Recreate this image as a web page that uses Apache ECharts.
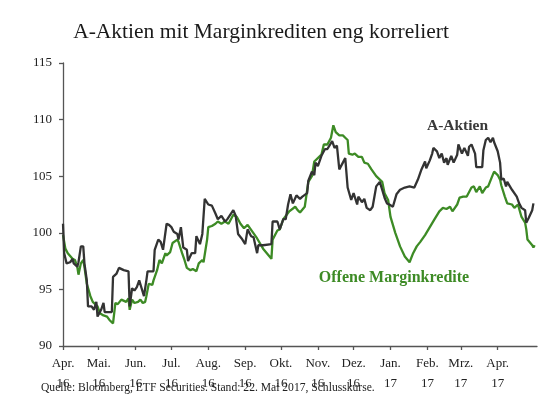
<!DOCTYPE html>
<html><head><meta charset="utf-8">
<script src="https://cdn.jsdelivr.net/npm/echarts@6/dist/echarts.min.js"></script>
<style>html,body{margin:0;padding:0;background:#fff}#c{width:550px;height:394px}</style>
</head><body><div id="c"></div>
<script>
// Axis date range (daily categories)
var axisStart = '2016-04-01';
var axisEnd = '2017-05-04';
var monthNames = ['Jan.','Feb.','Mrz.','Apr.','Mai.','Jun.','Jul.','Aug.','Sep.','Okt.','Nov.','Dez.'];
var yTicks = [90, 95, 100, 105, 110, 115];

// A-Aktien (black)
var aDates = ['2016-04-01','2016-04-02','2016-04-04','2016-04-07','2016-04-09','2016-04-10','2016-04-13','2016-04-14','2016-04-16','2016-04-18','2016-04-19','2016-04-21','2016-04-22','2016-04-25','2016-04-27','2016-04-29','2016-04-30','2016-05-03','2016-05-05','2016-05-06','2016-05-12','2016-05-13','2016-05-16','2016-05-18','2016-05-22','2016-05-26','2016-05-27','2016-05-29','2016-05-31','2016-06-02','2016-06-04','2016-06-06','2016-06-08','2016-06-10','2016-06-11','2016-06-16','2016-06-17','2016-06-20','2016-06-22','2016-06-24','2016-06-27','2016-06-29','2016-07-01','2016-07-03','2016-07-06','2016-07-07','2016-07-09','2016-07-11','2016-07-14','2016-07-15','2016-07-18','2016-07-21','2016-07-22','2016-07-25','2016-07-27','2016-07-29','2016-08-01','2016-08-04','2016-08-07','2016-08-09','2016-08-12','2016-08-15','2016-08-17','2016-08-22','2016-08-24','2016-08-26','2016-08-29','2016-09-01','2016-09-03','2016-09-06','2016-09-08','2016-09-11','2016-09-12','2016-09-16','2016-09-23','2016-09-24','2016-09-28','2016-09-30','2016-10-03','2016-10-05','2016-10-07','2016-10-09','2016-10-11','2016-10-14','2016-10-17','2016-10-19','2016-10-23','2016-10-24','2016-10-27','2016-10-29','2016-10-30','2016-11-01','2016-11-04','2016-11-07','2016-11-09','2016-11-13','2016-11-14','2016-11-15','2016-11-17','2016-11-19','2016-11-22','2016-11-24','2016-11-26','2016-11-29','2016-12-01','2016-12-04','2016-12-05','2016-12-08','2016-12-10','2016-12-12','2016-12-15','2016-12-17','2016-12-20','2016-12-23','2016-12-25','2016-12-27','2016-12-29','2016-12-31','2017-01-03','2017-01-06','2017-01-09','2017-01-13','2017-01-17','2017-01-21','2017-01-24','2017-01-27','2017-01-30','2017-01-31','2017-02-03','2017-02-05','2017-02-06','2017-02-09','2017-02-11','2017-02-13','2017-02-15','2017-02-17','2017-02-18','2017-02-21','2017-02-23','2017-02-26','2017-02-27','2017-03-02','2017-03-04','2017-03-07','2017-03-08','2017-03-10','2017-03-13','2017-03-14','2017-03-19','2017-03-20','2017-03-22','2017-03-24','2017-03-26','2017-03-28','2017-03-29','2017-04-01','2017-04-03','2017-04-04','2017-04-06','2017-04-08','2017-04-09','2017-04-13','2017-04-14','2017-04-17','2017-04-19','2017-04-21','2017-04-24','2017-04-25','2017-04-27','2017-04-30','2017-05-01'];
var aValues = [100.8,98.2,97.3,97.4,97.7,97.3,97.0,97.4,98.8,98.8,97.3,95.8,93.5,93.5,93.2,93.9,92.6,93.2,93.8,93.0,93.0,96.1,96.4,96.9,96.7,96.6,93.5,95.1,94.9,95.2,95.8,95.1,94.4,95.8,96.6,96.6,98.5,99.4,99.2,98.5,100.8,100.7,100.5,100.1,99.9,99.4,100.5,98.7,98.5,97.5,98.2,98.2,99.7,99.0,99.9,103.0,102.5,102.4,101.7,101.2,101.5,101.0,101.2,102.0,101.5,99.9,99.5,99.0,100.3,99.7,99.6,98.2,98.9,98.9,99.0,101.0,101.0,100.3,101.2,101.2,102.5,103.4,102.6,103.3,103.0,103.2,103.5,104.6,105.4,105.1,106.2,105.9,106.8,107.4,107.4,108.1,108.2,107.5,107.7,105.6,106.2,106.6,104.0,102.9,103.5,102.5,103.2,102.7,103.0,102.2,102.0,102.3,104.1,104.5,103.8,103.1,102.6,102.5,102.3,103.4,103.8,104.0,104.1,104.0,104.7,105.6,106.3,105.7,106.4,107.0,107.5,107.2,106.6,107.0,106.2,106.6,106.0,106.8,106.2,106.9,107.8,107.0,107.5,106.8,107.6,107.8,107.0,105.8,105.8,107.3,108.2,108.4,108.0,108.4,108.0,107.2,106.2,104.7,104.8,104.1,104.5,103.8,103.9,103.2,102.6,102.2,102.0,100.9,101.3,102.0,102.6];

// Offene Marginkredite (green)
var mDates = ['2016-04-01','2016-04-03','2016-04-05','2016-04-09','2016-04-11','2016-04-13','2016-04-14','2016-04-16','2016-04-18','2016-04-19','2016-04-21','2016-04-24','2016-04-26','2016-04-30','2016-05-02','2016-05-05','2016-05-08','2016-05-10','2016-05-13','2016-05-15','2016-05-17','2016-05-20','2016-05-21','2016-05-24','2016-05-26','2016-05-27','2016-05-29','2016-05-31','2016-06-03','2016-06-05','2016-06-07','2016-06-09','2016-06-10','2016-06-12','2016-06-15','2016-06-16','2016-06-19','2016-06-21','2016-06-23','2016-06-26','2016-06-27','2016-06-30','2016-07-02','2016-07-06','2016-07-07','2016-07-10','2016-07-12','2016-07-14','2016-07-17','2016-07-19','2016-07-22','2016-07-24','2016-07-27','2016-07-28','2016-07-31','2016-08-01','2016-08-04','2016-08-07','2016-08-09','2016-08-12','2016-08-15','2016-08-18','2016-08-22','2016-08-25','2016-08-28','2016-08-31','2016-09-03','2016-09-07','2016-09-11','2016-09-16','2016-09-23','2016-09-24','2016-09-28','2016-09-30','2016-10-03','2016-10-08','2016-10-13','2016-10-15','2016-10-17','2016-10-21','2016-10-24','2016-10-27','2016-10-29','2016-11-01','2016-11-04','2016-11-06','2016-11-09','2016-11-12','2016-11-14','2016-11-16','2016-11-19','2016-11-22','2016-11-24','2016-11-26','2016-11-27','2016-11-30','2016-12-02','2016-12-05','2016-12-08','2016-12-10','2016-12-13','2016-12-16','2016-12-20','2016-12-25','2016-12-27','2016-12-30','2017-01-01','2017-01-05','2017-01-09','2017-01-13','2017-01-17','2017-01-20','2017-01-23','2017-01-26','2017-01-30','2017-02-03','2017-02-07','2017-02-11','2017-02-14','2017-02-17','2017-02-20','2017-02-22','2017-02-26','2017-02-28','2017-03-03','2017-03-06','2017-03-08','2017-03-10','2017-03-12','2017-03-14','2017-03-17','2017-03-19','2017-03-22','2017-03-24','2017-03-27','2017-03-29','2017-04-01','2017-04-03','2017-04-04','2017-04-07','2017-04-09','2017-04-13','2017-04-15','2017-04-18','2017-04-21','2017-04-24','2017-04-25','2017-04-26','2017-04-30','2017-05-01','2017-05-02'];
var mValues = [99.8,98.6,98.2,97.7,97.6,97.0,96.3,97.3,97.6,97.0,95.5,94.4,93.9,93.5,92.9,92.7,92.6,92.3,92.0,93.8,93.7,94.1,94.2,93.9,94.2,93.2,94.1,93.8,93.9,94.1,93.8,93.9,94.4,95.5,95.4,95.8,96.7,97.6,97.3,98.2,98.0,98.3,99.1,99.4,99.2,98.2,97.6,96.9,96.7,96.8,96.6,97.3,97.6,97.4,99.4,100.5,100.6,100.8,101.0,100.8,101.0,100.8,101.6,101.4,100.8,100.4,100.7,100.1,99.5,98.6,97.7,99.4,100.2,100.3,101.2,101.9,102.3,102.0,101.8,102.3,104.5,105.0,106.3,106.6,106.9,107.8,107.8,108.4,109.5,108.9,108.6,108.6,108.4,108.2,107.0,106.9,107.0,106.7,106.7,106.2,106.1,105.6,105.0,104.5,103.5,102.9,101.4,100.0,98.8,97.9,97.4,98.2,98.8,99.2,99.8,100.5,101.2,101.9,102.2,102.1,102.3,101.9,102.5,103.1,103.2,103.2,103.6,104.0,104.1,103.6,104.1,103.5,104.0,104.1,104.9,105.4,105.1,104.7,104.2,103.2,102.6,102.5,102.2,102.5,101.4,100.9,100.3,99.4,98.9,98.7,98.9];

function pad(n){return n<10?'0'+n:''+n;}
function fmt(d){return d.getUTCFullYear()+'-'+pad(d.getUTCMonth()+1)+'-'+pad(d.getUTCDate());}
var categories = [];
(function(){
  var d = new Date(axisStart+'T00:00:00Z'), e = new Date(axisEnd+'T00:00:00Z');
  while (d <= e) { categories.push(fmt(d)); d = new Date(d.getTime()+86400000); }
})();
function isTick(idx, val){
  var v = categories[idx];
  return v.slice(8) === '01' && v.slice(0,7) !== '2017-05';
}
function pairs(ds, vs){ return ds.map(function(d,i){ return [d, vs[i]]; }); }

var serif = '"Liberation Serif", "DejaVu Serif", serif';
var chart = echarts.init(document.getElementById('c'), null, {renderer:'canvas'});
chart.setOption({
  animation:false,
  backgroundColor:'#fff',
  grid:{left:63, right:13, top:63, bottom:47.5},
  xAxis:{
    type:'category', data:categories, boundaryGap:false,
    axisLine:{lineStyle:{color:'#555', width:1.3}},
    axisTick:{interval:isTick, length:4, lineStyle:{color:'#555', width:1.3}},
    axisLabel:{interval:isTick, margin:8, color:'#222', fontFamily:serif, fontSize:13, lineHeight:20,
      formatter:function(v){ return monthNames[parseInt(v.slice(5,7),10)-1]+'\n'+v.slice(2,4); }},
    splitLine:{show:false}
  },
  yAxis:{
    type:'value', min:yTicks[0], max:yTicks[yTicks.length-1], interval:5,
    axisLine:{show:true, lineStyle:{color:'#555', width:1.3}},
    axisTick:{show:true, length:4, lineStyle:{color:'#555', width:1.3}},
    axisLabel:{margin:11, color:'#222', fontFamily:serif, fontSize:13},
    splitLine:{show:false}
  },
  series:[
    {name:'Offene Marginkredite', type:'line', data:pairs(mDates,mValues), showSymbol:false, symbol:'none',
     lineStyle:{color:'#3d8b25', width:2.3}, z:2},
    {name:'A-Aktien', type:'line', data:pairs(aDates,aValues), showSymbol:false, symbol:'none',
     lineStyle:{color:'#333333', width:2.3}, z:3}
  ],
  graphic:[
    {type:'text', x:261, y:32, style:{text:'A-Aktien mit Marginkrediten eng korreliert', fill:'#1a1a1a',
      font:'21.5px '+serif, textAlign:'center', textVerticalAlign:'middle'}},
    {type:'text', x:457.5, y:126, style:{text:'A-Aktien', fill:'#3a3a3a',
      font:'bold 15.5px '+serif, textAlign:'center', textVerticalAlign:'middle'}},
    {type:'text', x:394, y:278, style:{text:'Offene Marginkredite', fill:'#3d8b25',
      font:'bold 16px '+serif, textAlign:'center', textVerticalAlign:'middle'}},
    {type:'text', x:41, y:388, style:{text:'Quelle: Bloomberg, ETF Securities. Stand: 22. Mai 2017, Schlusskurse.', fill:'#222',
      font:'11.6px '+serif, textAlign:'left', textVerticalAlign:'middle'}}
  ]
});
</script></body></html>
